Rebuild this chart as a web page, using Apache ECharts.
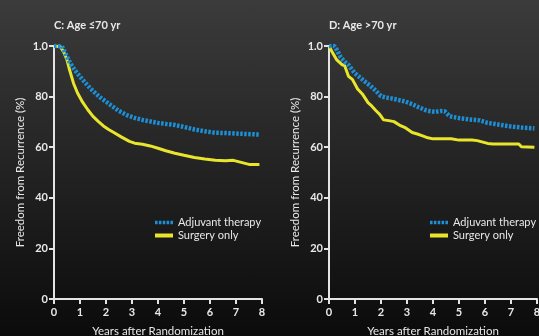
<!DOCTYPE html>
<html><head><meta charset="utf-8">
<script src="https://cdn.jsdelivr.net/npm/echarts@6/dist/echarts.min.js"></script>
<style>html,body{margin:0;padding:0;}#c{width:539px;height:336px;background:linear-gradient(#3b3b3b,#0b0b0b);}</style>
</head><body><div id="c"></div>
<script>
const titles = ['C: Age \u226470 yr', 'D: Age >70 yr'];
const seriesNames = ['Adjuvant therapy', 'Surgery only'];
const yTickLabels = {0:'0',20:'20',40:'40',60:'60',80:'80',100:'1.0'};

const yearsC_adj = [0,0.3,0.45,0.62,0.8,1.0,1.2,1.4,1.6,1.8,2.0,2.2,2.5,2.8,3.1,3.4,3.7,4.0,4.3,4.65,5.0,5.4,5.8,6.2,6.6,7.0,7.4,7.9];
const valsC_adj  = [100,100,96.8,93.2,90.5,87.9,85.5,83.2,81.3,79.5,78,76.5,74.3,72.7,71.6,70.8,70.2,69.6,69.2,68.8,68.0,67.0,66.3,65.7,65.6,65.4,65.2,65.0];

const yearsC_sur = [0,0.25,0.4,0.5,0.6,0.75,0.9,1.1,1.3,1.5,1.7,1.9,2.1,2.3,2.6,2.9,3.1,3.4,3.7,4.0,4.3,4.65,5.0,5.4,5.8,6.2,6.6,6.9,7.2,7.5,7.9];
const valsC_sur  = [100,99.7,97,94.5,90.5,85.3,81.5,77.8,74.8,72.2,70.2,68.4,67.0,65.8,64.0,62.3,61.6,61.2,60.5,59.6,58.6,57.6,56.8,55.9,55.3,54.8,54.6,54.8,54.0,53.2,53.2];

const yearsD_adj = [0,0.2,0.3,0.45,0.6,0.75,0.9,1.0,1.2,1.4,1.6,1.8,2.0,2.2,2.4,2.7,2.95,3.2,3.45,3.7,3.9,4.1,4.3,4.45,4.65,5.0,5.4,5.8,6.1,6.5,7.0,7.4,7.9];
const valsD_adj  = [100,100,98.5,95.5,93.8,92.5,90.5,89.2,87.5,85.8,84.2,82.3,80.2,79.6,79.3,78.6,78.0,77.0,75.8,74.7,74.2,74.0,74.3,74.2,72.2,71.5,71.0,70.6,69.6,69.0,68.2,67.8,67.4];

const yearsD_sur = [0,0.1,0.3,0.5,0.6,0.75,0.9,1.1,1.3,1.5,1.65,1.8,1.95,2.1,2.3,2.5,2.75,2.95,3.2,3.4,3.6,3.8,4.0,4.3,4.7,5.0,5.5,5.7,6.1,6.3,7.3,7.4,7.9];
const valsD_sur  = [100,98,94.5,92.6,92.3,88,86.8,83,80.8,77.6,76.2,74.5,73,70.8,70.5,70.1,68.5,67.6,65.8,65.2,64.5,63.7,63.3,63.3,63.3,62.8,62.8,62.6,61.5,61.3,61.3,60.2,60.0];

const pairs = (xs, ys) => xs.map((x, i) => [x, ys[i]]);

const BLUE = '#1c8fd6', YELLOW = '#e9e52c', AX = '#e4e4e4', TXT = '#e8e8e8';
const FONT = 'Lato';
const dotted = 'path://M0,0h3v4h-3z M4.5,0h3v4h-3z M9,0h3v4h-3z M13.5,0h3v4h-3z M18,0h3v4h-3z';

function xAx(i){return {gridIndex:i,type:'value',min:0,max:8,interval:1,
  name:'Years after Randomization',nameLocation:'middle',nameGap:26,
  nameTextStyle:{color:TXT,fontFamily:FONT,fontSize:11.5},
  axisLine:{lineStyle:{color:AX,width:2}},axisTick:{length:5,lineStyle:{color:AX,width:2}},
  axisLabel:{color:TXT,fontFamily:FONT,fontSize:11,fontWeight:'bold',margin:8},splitLine:{show:false}};}
function yAx(i){return {gridIndex:i,type:'value',min:0,max:100,interval:20,
  name:'Freedom from Recurrence (%)',nameLocation:'middle',nameGap:28,nameRotate:90,
  nameTextStyle:{color:TXT,fontFamily:FONT,fontSize:11.5},
  axisLine:{lineStyle:{color:AX,width:2}},axisTick:{length:5,lineStyle:{color:AX,width:2}},
  axisLabel:{color:TXT,fontFamily:FONT,fontSize:11,fontWeight:'bold',margin:6,formatter:v=>yTickLabels[v]},
  splitLine:{show:false}};}
function legend(left){return {left:left,top:216,padding:0,orient:'vertical',itemGap:0,itemWidth:18,itemHeight:4,
  textStyle:{color:TXT,fontFamily:FONT,fontSize:11,lineHeight:13},
  data:[{name:seriesNames[0],icon:dotted,itemStyle:{color:BLUE}},{name:seriesNames[1],icon:'rect',itemStyle:{color:YELLOW}}],
  selectedMode:false};}
function ser(name,idx,data,blue){return {name:name,type:'line',xAxisIndex:idx,yAxisIndex:idx,data:data,
  symbol:'none',smooth:false,silent:true,z:blue?3:2,
  lineStyle:blue?{color:BLUE,width:4.5,type:[2.5,1.5],cap:'butt'}:{color:YELLOW,width:3},
  itemStyle:{color:blue?BLUE:YELLOW}};}

const chart = echarts.init(document.getElementById('c'));
chart.setOption({
  backgroundColor:'transparent',
  animation:false,
  title:[
    {text:titles[0],left:49,top:15,textStyle:{color:TXT,fontFamily:FONT,fontSize:11,fontWeight:'bold'}},
    {text:titles[1],left:324,top:15,textStyle:{color:TXT,fontFamily:FONT,fontSize:11,fontWeight:'bold'}}
  ],
  legend:[legend(155),legend(430)],
  grid:[
    {left:54,right:277,top:46,bottom:37,outerBoundsMode:'none',containLabel:false},
    {left:329,right:2,top:46,bottom:37,outerBoundsMode:'none',containLabel:false}
  ],
  xAxis:[xAx(0),xAx(1)],
  yAxis:[yAx(0),yAx(1)],
  series:[
    ser(seriesNames[0],0,pairs(yearsC_adj,valsC_adj),true),
    ser(seriesNames[1],0,pairs(yearsC_sur,valsC_sur),false),
    ser(seriesNames[0],1,pairs(yearsD_adj,valsD_adj),true),
    ser(seriesNames[1],1,pairs(yearsD_sur,valsD_sur),false)
  ]
});
</script></body></html>
